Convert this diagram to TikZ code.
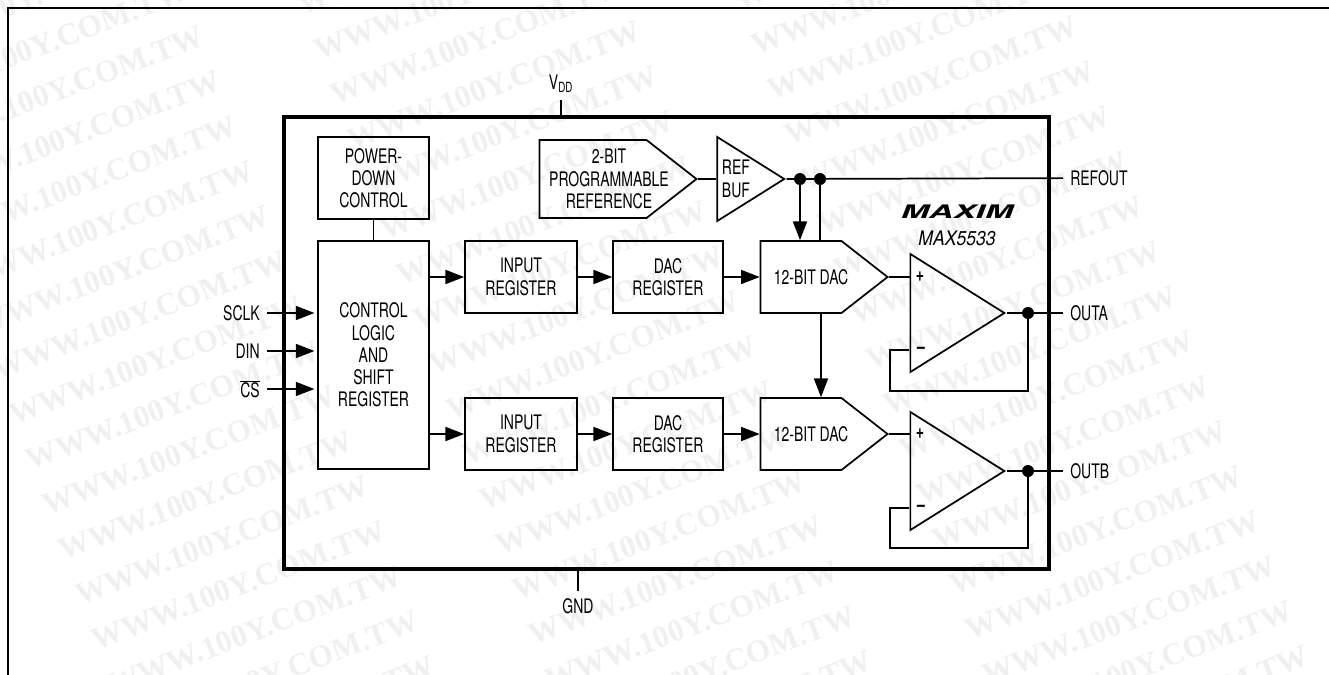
\documentclass[tikz,border=0pt]{standalone}
\usepackage{fontspec}
\setmainfont[FakeStretch=0.7]{TeX Gyre Heros}
\newfontfamily\wmfont{Liberation Serif}
\newfontfamily\logofont[FakeStretch=1.8]{TeX Gyre Heros}
\newfontfamily\partfont[FakeStretch=0.88]{TeX Gyre Heros}
\usetikzlibrary{arrows.meta, positioning, shapes.geometric, shapes.symbols}
\definecolor{wmgray}{HTML}{F0F0F0}
\tikzstyle{arrow} = [line width=1.3pt,-{Triangle[length=14pt,width=10.5pt]}]

\begin{document}
\begin{tikzpicture}[
                x=.75pt,
                y=-.75pt,
                box/.style={
                    draw,
                    line width=1.3pt,
                    inner sep=0pt,
                    align=center
                },
                dac/.style={
                    box,
                    signal,
                    signal to=east,
                    signal pointer angle=76,
                    minimum width=95.25pt,
                    minimum height=54pt
                },
                amp/.style={
                    draw,
                    line width=1.3pt,
                    isosceles triangle,
                    isosceles triangle stretches,
                    inner sep=0pt,
                    minimum width=88.5pt,
                    minimum height=70.5pt
                },
                dot/.style={
                    circle,
                    fill,
                    inner sep=0pt,
                    minimum size=9pt
                },
                wire/.style={
                    line width=1.3pt
                },
                pin/.style={
                    inner sep=5.25pt
                },
                sign/.style={
                    inner sep=0pt,
                    font=\bfseries\fontsize{15}{16}\selectfont
                },
                wm/.style={
                    font=\wmfont\bfseries\fontsize{23.6}{24}\selectfont,
                    text=wmgray,
                    rotate=20.9,
                    inner sep=0pt
                },
                every node/.style={font=\fontsize{15}{16.7}\selectfont}
            ]

                \useasboundingbox (0,0) rectangle (1329,675);

                % background lettering
                \foreach \i in {0,1,2}
                    \foreach \j in {-2,...,17}
                        \node[wm] (wm\i\j) at ({7.5+437*\i+16.5*\j},{-44.5-5*\i+45*\j}) {WWW.100Y.COM.TW};

                \draw[line width=2.2pt] (8,675) -- (8,8) -- (1329,8);

                \node[draw, line width=3.5pt, inner sep=0pt, minimum width=573.75pt, minimum height=339pt] (chip) at (666.5,343) {};

                \node[box, minimum width=83.25pt, minimum height=61.5pt] (pd) at (373.5,178) {POWER-\\DOWN\\CONTROL};
                \node[box, minimum width=83.25pt, minimum height=171pt] (ctrl) at (373.5,355) {CONTROL\\LOGIC\\AND\\SHIFT\\REGISTER};

                \node[box, minimum width=84pt, minimum height=54pt] (in1) at (521,277) {INPUT\\REGISTER};
                \node[box, minimum width=84pt, minimum height=54pt] (in2) at (521,434) {INPUT\\REGISTER};
                \node[box, minimum width=82.5pt, minimum height=54pt] (reg1) at (668,277) {DAC\\REGISTER};
                \node[box, minimum width=82.5pt, minimum height=54pt] (reg2) at (668,434) {DAC\\REGISTER};

                \node[dac] (dac1) at (801,277) {};
                \node[dac] (dac2) at (801,434) {};
                \node[inner sep=0pt] (dac1txt) at (811,277) {12-BIT DAC};
                \node[inner sep=0pt] (dac2txt) at (811,434) {12-BIT DAC};

                \node[dac, minimum width=117.75pt, minimum height=58.5pt] (ref) at (593,179) {};
                \node[inner sep=0pt, align=center] (reftxt) at (609,179) {2-BIT\\PROGRAMMABLE\\REFERENCE};
                \node[amp, minimum width=63pt, minimum height=50.25pt] (buf) at (740.5,179) {};
                \node[right=4pt of buf.west, anchor=west, align=left, inner sep=0pt] (buftxt) {REF\\BUF};

                \node[amp] (opa) at (943,313) {};
                \node[amp] (opb) at (943,471) {};
                \node[sign] (pa) at (920,277) {+};
                \node[sign] (ma) at (921,350) {--};
                \node[sign] (pb) at (920,434) {+};
                \node[sign] (mb) at (921,508) {--};

                \node[pin, anchor=south] (vdd) at (561,100) {V\textsubscript{DD}};
                \node[pin, anchor=north] (gnd) at (578,591) {GND};
                \node[pin, anchor=east] (sclk) at (267,313) {SCLK};
                \node[pin, anchor=east] (din) at (267,351) {DIN};
                \node[pin, anchor=east] (cs) at (267,389) {$\overline{\mbox{CS}}$};
                \node[pin, anchor=west] (refout) at (1063,178) {REFOUT};
                \node[pin, anchor=west] (outa) at (1063,313) {OUTA};
                \node[pin, anchor=west] (outb) at (1063,471) {OUTB};

                \node[dot] (d1) at (800,179) {};
                \node[dot] (d2) at (820,179) {};
                \node[dot] (da) at (1028,313) {};
                \node[dot] (db) at (1028,471) {};

                \node[inner sep=0pt, font=\logofont\bfseries\itshape\fontsize{14}{14}\selectfont] (logo) at (957,212) {MAXIM};
                \node[inner sep=0pt, font=\partfont\itshape\fontsize{15}{16}\selectfont] (part) at (957,238) {MAX5533};

                \coordinate (fa) at (890,391);
                \coordinate (fb) at (890,548);
                \coordinate (ia) at (909,350);
                \coordinate (ib) at (909,508);

                \draw[wire] (pd) -- (ctrl);
                \draw[arrow, shorten >=2pt] (sclk) -- (sclk -| ctrl.west);
                \draw[arrow, shorten >=2pt] (din) -- (din -| ctrl.west);
                \draw[arrow, shorten >=2pt] (cs) -- (cs -| ctrl.west);
                \draw[arrow] (in1 -| ctrl.east) -- (in1);
                \draw[arrow] (in2 -| ctrl.east) -- (in2);
                \draw[arrow] (in1) -- (reg1);
                \draw[arrow] (in2) -- (reg2);
                \draw[arrow] (reg1) -- (dac1.west);
                \draw[arrow] (reg2) -- (dac2.west);
                \draw[arrow] (dac1.south -| 821,0) -- (dac2.north -| 821,0);
                \draw[wire] (ref.east) -- (buf.west);
                \draw[wire] (buf.east) -- (refout);
                \draw[arrow] (d1) -- (d1 |- dac1.north);
                \draw[wire] (d2) -- (d2 |- dac1.north);
                \draw[wire] (dac1.east) -- (dac1.east -| opa.west);
                \draw[wire] (dac2.east) -- (dac2.east -| opb.west);
                \draw[wire] (opa.east) -- (outa);
                \draw[wire] (opb.east) -- (outb);
                \draw[wire] (da) |- (fa) |- (ia);
                \draw[wire] (db) |- (fb) |- (ib);
                \draw[wire] (vdd) -- (vdd |- chip.north);
                \draw[wire] (gnd) -- (gnd |- chip.south);

            \end{tikzpicture}
\end{document}
